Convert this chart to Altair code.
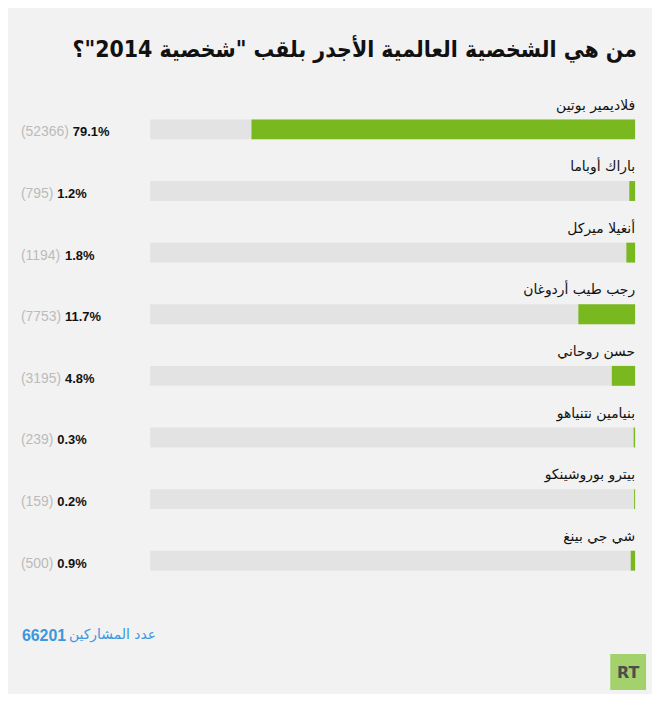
import altair as alt
import pandas as pd

# ---- data ----
names = [
    "فلاديمير بوتين",
    "باراك أوباما",
    "أنغيلا ميركل",
    "رجب طيب أردوغان",
    "حسن روحاني",
    "بنيامين نتنياهو",
    "بيترو بوروشينكو",
    "شي جي بينغ",
]
percents = [79.1, 1.2, 1.8, 11.7, 4.8, 0.3, 0.2, 0.9]
votes = [52366, 795, 1194, 7753, 3195, 239, 159, 500]
total_votes = 66201
title_text = "من هي الشخصية العالمية الأجدر بلقب \"شخصية 2014\"؟"
footer_label = "عدد المشاركين"
logo_text = "RT"

W, H = 648, 686
GREEN = "#79b91f"
TRACK = "#e3e3e3"
BG = "#f2f2f2"

df = pd.DataFrame({
    "name": names,
    "pct": percents,
    "votes": votes,
})
df["full"] = 100
df["zero"] = 0
df["count_label"] = ["(" + str(v) + ")" for v in votes]
df["pct_label"] = [f"{p}%" for p in percents]

base = alt.Chart(df)

y_enc = alt.Y(
    "name:N",
    sort=None,
    scale=alt.Scale(domain=names, range=[89, 585], paddingInner=0, paddingOuter=0),
    axis=None,
)
x_scale = alt.Scale(domain=[0, 100], range=[631, 143], nice=False, zero=True)

track = base.mark_bar(height=20, color=TRACK, cornerRadius=0).encode(
    x=alt.X("full:Q", scale=x_scale, axis=None),
    x2=alt.X2("zero:Q"),
    y=y_enc,
)
bars = base.mark_bar(height=20, color=GREEN, cornerRadius=0).encode(
    x=alt.X("pct:Q", scale=x_scale, axis=None),
    x2=alt.X2("zero:Q"),
    y=y_enc,
)
name_text = base.mark_text(
    align="right", baseline="middle", dy=-24, fontSize=14,
    font="DejaVu Sans", color="#111111",
).encode(
    x=alt.X("zero:Q", scale=x_scale, axis=None),
    y=y_enc,
    text="name:N",
)

count_text = base.mark_text(
    align="left", baseline="middle", dy=3, fontSize=14,
    font="Liberation Sans", color="#bbbbbb",
).encode(
    x=alt.value(13),
    y=y_enc,
    text="count_label:N",
)
pct_text = base.transform_calculate(
    px="13 + length(datum.count_label) * 7.78 - 6.24 + 4"
).mark_text(
    align="left", baseline="middle", dy=3, fontSize=13, fontWeight="bold",
    font="Liberation Sans", color="#111111",
).encode(
    x=alt.X("px:Q", scale=None, axis=None),
    y=y_enc,
    text="pct_label:N",
)

title = alt.Chart(pd.DataFrame({"t": ["\u202B" + title_text + "\u202C"]})).mark_text(
    align="right", baseline="middle", fontSize=23, fontWeight="bold",
    font="DejaVu Sans Condensed, DejaVu Sans", color="#111111",
).encode(x=alt.value(633), y=alt.value(40), text="t:N")

footer_num = alt.Chart(pd.DataFrame({"t": [str(total_votes)]})).mark_text(
    align="left", baseline="middle", fontSize=16, fontWeight="bold",
    font="Liberation Sans", color="#3d97dc",
).encode(x=alt.value(14), y=alt.value(630), text="t:N")
footer_lbl = alt.Chart(pd.DataFrame({"t": [footer_label]})).mark_text(
    align="right", baseline="middle", fontSize=14,
    font="DejaVu Sans", color="#3d97dc",
).encode(x=alt.value(149), y=alt.value(629), text="t:N")

logo_box = alt.Chart(pd.DataFrame({"t": [logo_text]})).mark_rect(color="#a3d16b").encode(
    x=alt.value(606), x2=alt.value(642), y=alt.value(648), y2=alt.value(684)
)
logo_txt = alt.Chart(pd.DataFrame({"t": [logo_text]})).mark_text(
    align="center", baseline="middle", fontSize=16, fontWeight="bold",
    font="DejaVu Sans", color="#4d4d4d",
).encode(x=alt.value(624), y=alt.value(667), text="t:N")

chart = alt.layer(
    track, bars, name_text, count_text, pct_text, title,
    footer_num, footer_lbl, logo_box, logo_txt,
).properties(
    width=W, height=H,
    autosize=alt.AutoSizeParams(type="none"),
    padding=0,
    background=BG,
).configure_view(stroke=None)

chart.save("out.html", embed_options={"renderer": "svg", "actions": False})
